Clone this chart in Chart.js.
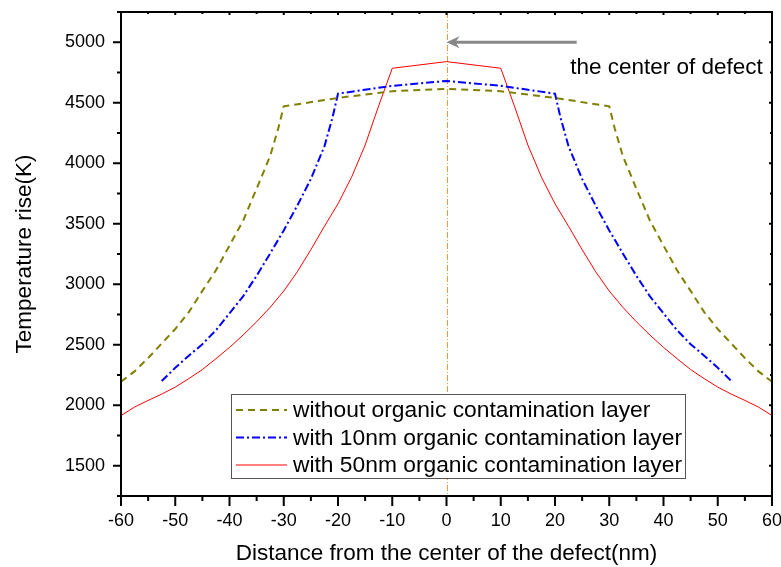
<!DOCTYPE html>
<html>
<head>
<meta charset="utf-8">
<script src="https://cdn.jsdelivr.net/npm/chart.js@4.4.0/dist/chart.umd.min.js"></script>
<style>
  html, body { margin: 0; padding: 0; background: #fff; }
  canvas { display: block; }
</style>
</head>
<body>
<canvas id="chart" width="781" height="567"></canvas>
<script>
// Distance from the defect centre (nm) and temperature rise (K)
var noLayerX = [-60, -57.5, -55, -52.5, -50, -47.5, -45, -42.5, -40, -37.5, -35, -32.5, -31, -30, -20, -10, 0,
                10, 20, 30, 31, 32.5, 35, 37.5, 40, 42.5, 45, 47.5, 50, 52.5, 55, 57.5, 60];
var noLayerY = [2195, 2280, 2390, 2510, 2630, 2770, 2945, 3115, 3320, 3525, 3790, 4060, 4290, 4470, 4540, 4595, 4615,
                4595, 4540, 4470, 4290, 4060, 3790, 3525, 3320, 3115, 2945, 2770, 2630, 2510, 2390, 2280, 2195];

var layer10X = [-52.5, -50, -47.5, -45, -42.5, -40, -37.5, -35, -32.5, -30, -27.5, -25, -22.5, -21, -20, -10, 0,
                10, 20, 21, 22.5, 25, 27.5, 30, 32.5, 35, 37.5, 40, 42.5, 45, 47.5, 50, 52.5];
var layer10Y = [2200, 2310, 2410, 2505, 2620, 2760, 2900, 3070, 3255, 3445, 3650, 3870, 4140, 4380, 4575, 4640, 4680,
                4640, 4575, 4380, 4140, 3870, 3650, 3445, 3255, 3070, 2900, 2760, 2620, 2505, 2410, 2310, 2200];

var layer50X = [-60, -57.5, -55, -52.5, -50, -47.5, -45, -42.5, -40, -37.5, -35, -32.5, -30, -27.5, -25, -22.5, -20,
                -17.5, -15, -12.5, -10, 0, 10, 12.5, 15, 17.5, 20, 22.5, 25, 27.5, 30, 32.5, 35, 37.5, 40,
                42.5, 45, 47.5, 50, 52.5, 55, 57.5, 60];
var layer50Y = [1915, 1985, 2040, 2092, 2150, 2220, 2295, 2385, 2478, 2580, 2690, 2810, 2944, 3103, 3286, 3479, 3665,
                3885, 4150, 4475, 4785, 4840, 4785, 4475, 4150, 3885, 3665, 3479, 3286, 3103, 2944, 2810, 2690, 2580, 2478,
                2385, 2295, 2220, 2150, 2092, 2040, 1985, 1915];

var seriesNames = ['without organic contamination layer',
                   'with 10nm organic contamination layer',
                   'with 50nm organic contamination layer'];

// Annotation: arrow pointing at the defect centre
var arrowFrom = [24, 5000];
var arrowTo = [0, 5000];
var noteText = 'the center of defect';
var notePos = [22.8, 4790];

var FONT = '"Liberation Sans", Arial, Helvetica, sans-serif';

function toPoints(xs, ys) {
    var pts = [];
    for (var i = 0; i < xs.length; i++)
        pts.push({x: xs[i], y: ys[i]});
    return pts;
}

// Draws the frame, the tick marks, the centre line, the arrow and the legend box
var decorPlugin = {
    id: 'decor',
    beforeDatasetsDraw: function (chart) {
        var ctx = chart.ctx, ca = chart.chartArea, sx = chart.scales.x;
        var x0 = Math.round(sx.getPixelForValue(0)) + 0.5;
        ctx.save();
        ctx.strokeStyle = '#f39a3c';
        ctx.lineWidth = 1;
        ctx.setLineDash([6, 2, 1, 2]);
        ctx.beginPath();
        ctx.moveTo(x0, ca.top);
        ctx.lineTo(x0, ca.bottom);
        ctx.stroke();
        ctx.restore();
    },
    afterDraw: function (chart) {
        var ctx = chart.ctx, ca = chart.chartArea;
        var sx = chart.scales.x, sy = chart.scales.y;
        ctx.save();
        ctx.strokeStyle = '#000';
        ctx.lineWidth = 2;
        ctx.setLineDash([]);
        ctx.strokeRect(ca.left, ca.top, ca.right - ca.left, ca.bottom - ca.top);

        // x ticks: outward on the bottom, small inward on the top
        sx.ticks.forEach(function (t) {
            var px = sx.getPixelForValue(t.value);
            var major = t.value % 10 === 0;
            ctx.beginPath();
            ctx.moveTo(px, ca.bottom);
            ctx.lineTo(px, ca.bottom + (major ? 10 : 5));
            ctx.moveTo(px, ca.top);
            ctx.lineTo(px, ca.top + (major ? 3 : 2));
            ctx.stroke();
        });
        // y ticks: outward on the left, small inward on the right
        sy.ticks.forEach(function (t) {
            var py = sy.getPixelForValue(t.value);
            var major = t.value % 500 === 0;
            ctx.beginPath();
            ctx.moveTo(ca.left, py);
            ctx.lineTo(ca.left - (major ? 8 : 4), py);
            ctx.moveTo(ca.right, py);
            ctx.lineTo(ca.right - (major ? 3 : 2), py);
            ctx.stroke();
        });

        // arrow
        var ax1 = sx.getPixelForValue(arrowFrom[0]), ay = sy.getPixelForValue(arrowFrom[1]);
        var ax2 = sx.getPixelForValue(arrowTo[0]);
        ctx.strokeStyle = '#888';
        ctx.fillStyle = '#888';
        ctx.lineWidth = 3;
        ctx.beginPath();
        ctx.moveTo(ax1, ay);
        ctx.lineTo(ax2 + 6, ay);
        ctx.stroke();
        ctx.beginPath();
        ctx.moveTo(ax2, ay);
        ctx.lineTo(ax2 + 13, ay - 6);
        ctx.lineTo(ax2 + 9, ay);
        ctx.lineTo(ax2 + 13, ay + 6);
        ctx.closePath();
        ctx.fill();

        ctx.fillStyle = '#000';
        ctx.font = '22.5px ' + FONT;
        ctx.textAlign = 'left';
        ctx.textBaseline = 'middle';
        ctx.fillText(noteText, sx.getPixelForValue(notePos[0]), sy.getPixelForValue(notePos[1]));

        // legend
        var lx = 231, ly = 394, lw = 454, lh = 84;
        ctx.fillStyle = '#fff';
        ctx.fillRect(lx, ly, lw, lh);
        ctx.strokeStyle = '#555';
        ctx.lineWidth = 1;
        ctx.strokeRect(lx + 0.5, ly + 0.5, lw, lh);
        ctx.font = '22.8px ' + FONT;
        chart.data.datasets.forEach(function (ds, i) {
            var cy = ly + 16 + i * 27.5;
            ctx.strokeStyle = ds.borderColor;
            ctx.lineWidth = ds.borderWidth;
            ctx.setLineDash(ds.borderDash || []);
            ctx.beginPath();
            ctx.moveTo(lx + 5, cy);
            ctx.lineTo(lx + 56, cy);
            ctx.stroke();
            ctx.setLineDash([]);
            ctx.fillStyle = '#000';
            ctx.fillText(ds.label, lx + 62, cy + 1);
        });
        ctx.restore();
    }
};

var ctx = document.getElementById('chart').getContext('2d');
var chart = new Chart(ctx, {
    type: 'line',
    data: {
        datasets: [
            {label: seriesNames[0], data: toPoints(noLayerX, noLayerY), borderColor: '#808000',
             borderWidth: 2, borderDash: [7, 5], pointRadius: 0, fill: false, tension: 0},
            {label: seriesNames[1], data: toPoints(layer10X, layer10Y), borderColor: '#0000ff',
             borderWidth: 2, borderDash: [8, 3, 2, 3], pointRadius: 0, fill: false, tension: 0},
            {label: seriesNames[2], data: toPoints(layer50X, layer50Y), borderColor: '#ff0000',
             borderWidth: 1, pointRadius: 0, fill: false, tension: 0}
        ]
    },
    options: {
        responsive: false,
        animation: false,
        layout: {padding: {top: 12, right: 9, left: 0, bottom: 0}},
        plugins: {legend: {display: false}, tooltip: {enabled: false}},
        scales: {
            x: {
                type: 'linear', min: -60, max: 60,
                grid: {display: false, drawTicks: false},
                border: {display: false},
                ticks: {
                    stepSize: 5, autoSkip: false, maxRotation: 0, padding: 14,
                    color: '#000', font: {family: FONT, size: 18},
                    callback: function (v) { return v % 10 === 0 ? v : ''; }
                },
                title: {display: true, text: 'Distance from the center of the defect(nm)', color: '#000',
                        font: {family: FONT, size: 22.5}, padding: {top: 0, bottom: 0}},
                afterFit: function (s) {
                    s.height = 71;
                    s.paddingLeft = 0;
                    s.paddingRight = 0;
                }
            },
            y: {
                min: 1250, max: 5250,
                grid: {display: false, drawTicks: false},
                border: {display: false},
                ticks: {
                    stepSize: 250, autoSkip: false, padding: 16,
                    color: '#000', font: {family: FONT, size: 18},
                    callback: function (v) { return v % 500 === 0 ? v : ''; }
                },
                title: {display: true, text: 'Temperature rise(K)', color: '#000',
                        font: {family: FONT, size: 22.5}, padding: {top: 11, bottom: 0}},
                afterFit: function (s) {
                    s.width = 121;
                    s.paddingTop = 0;
                    s.paddingBottom = 0;
                }
            }
        }
    },
    plugins: [decorPlugin]
});
</script>
</body>
</html>
